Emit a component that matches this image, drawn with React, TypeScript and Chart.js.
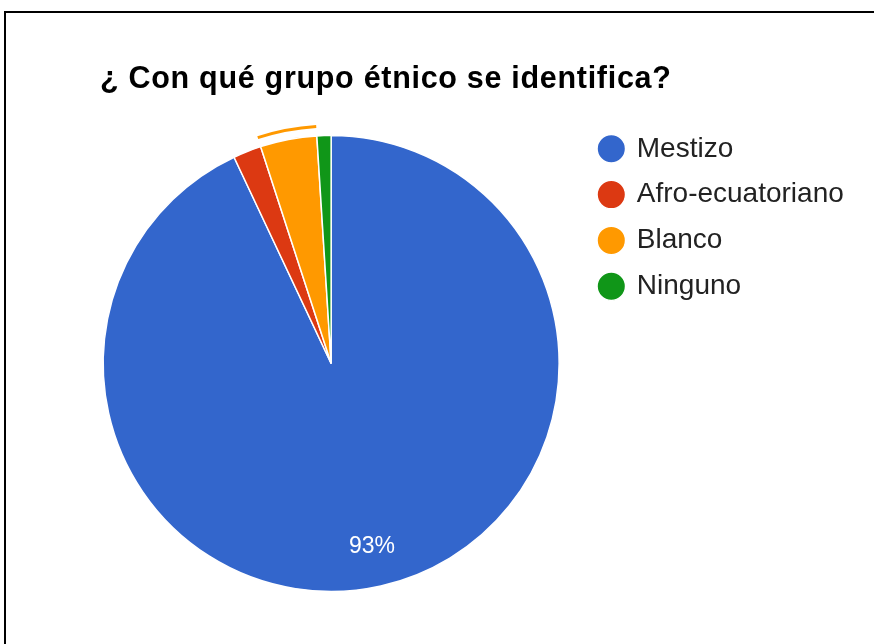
import React, { useEffect, useRef } from "react";
import { Chart, registerables } from "chart.js";

Chart.register(...registerables);

const TITLE = "¿ Con qué grupo étnico se identifica?";
const categories = ["Mestizo", "Afro-ecuatoriano", "Blanco", "Ninguno"];
const values = [93, 2, 4, 1];
const colors = ["#3366CC", "#DC3912", "#FF9900", "#109618"];
const highlightedIndex = 2; // Blanco (hover ring)

const FONT = "'Liberation Sans', Arial, Helvetica, sans-serif";

export default function App() {
  const ref = useRef<HTMLCanvasElement>(null);

  useEffect(() => {
    const canvas = ref.current;
    if (!canvas) return;

    const titlePlugin = {
      id: "customTitle",
      afterDraw(chart: any) {
        const ctx = chart.ctx as CanvasRenderingContext2D;
        ctx.save();
        ctx.font = `bold 30.5px ${FONT}`;
        (ctx as any).letterSpacing = "0.7px";
        ctx.fillStyle = "#000";
        ctx.textBaseline = "alphabetic";
        ctx.textAlign = "left";
        ctx.fillText(TITLE, 100, 88);
        ctx.restore();
      },
    };

    const sliceExtras = {
      id: "sliceExtras",
      afterDatasetsDraw(chart: any) {
        const meta = chart.getDatasetMeta(0);
        const ctx = chart.ctx as CanvasRenderingContext2D;
        const data = chart.data.datasets[0].data as number[];
        const total = data.reduce((a, b) => a + b, 0);
        meta.data.forEach((arc: any, i: number) => {
          const { x, y, startAngle, endAngle, outerRadius } = arc.getProps(
            ["x", "y", "startAngle", "endAngle", "outerRadius"],
            true
          );
          if (i === highlightedIndex) {
            ctx.save();
            ctx.beginPath();
            ctx.arc(x, y, outerRadius + 9.5, startAngle, endAngle);
            ctx.strokeStyle = colors[i];
            ctx.lineWidth = 3;
            ctx.stroke();
            ctx.restore();
          }
          const pct = (data[i] / total) * 100;
          if (pct >= 5) {
            const mid = (startAngle + endAngle) / 2;
            const r = outerRadius * 0.82;
            ctx.save();
            ctx.font = `23px ${FONT}`;
            ctx.fillStyle = "#fff";
            ctx.textAlign = "center";
            ctx.textBaseline = "middle";
            ctx.fillText(`${Math.round(pct)}%`, x + Math.cos(mid) * r, y + Math.sin(mid) * r + 1);
            ctx.restore();
          }
        });
      },
    };

    const chart = new Chart(canvas, {
      type: "pie",
      data: {
        labels: categories,
        datasets: [
          {
            data: values,
            backgroundColor: colors,
            borderColor: "#ffffff",
            borderWidth: 1.5,
            radius: 228,
          } as any,
        ],
      },
      options: {
        responsive: false,
        animation: false,
        devicePixelRatio: 1,
        events: [],
        layout: { padding: { left: 80.3, right: 20.2, top: 117, bottom: 34 } },
        plugins: {
          title: { display: false },
          tooltip: { enabled: false },
          legend: {
            position: "right",
            align: "start",
            labels: {
              usePointStyle: true,
              pointStyle: "circle",
              boxWidth: 23,
              boxHeight: 20.15,
              padding: 17.8,
              color: "#222222",
              font: { family: FONT, size: 28 },
            },
          },
        },
      } as any,
      plugins: [titlePlugin, sliceExtras],
    });

    return () => chart.destroy();
  }, []);

  return (
    <div
      style={{
        position: "fixed",
        left: 0,
        top: 0,
        width: 874,
        height: 644,
        overflow: "hidden",
        background: "#fff",
      }}
    >
      <div
        style={{
          position: "absolute",
          left: 4,
          top: 11,
          width: 1000,
          height: 1000,
          borderTop: "2px solid #000",
          borderLeft: "2px solid #000",
        }}
      />
      <canvas
        ref={ref}
        width={874}
        height={644}
        style={{ position: "absolute", left: 0, top: 0, width: 874, height: 644 }}
      />
    </div>
  );
}
